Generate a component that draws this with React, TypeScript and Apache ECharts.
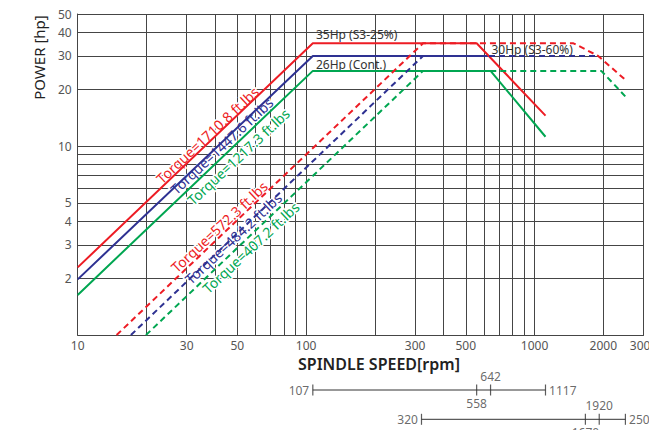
import React, { useEffect, useRef } from "react";
import * as echarts from "echarts";

// ---- axis ticks / labels (real units) ----
const rpmGrid = [10, 20, 30, 40, 50, 60, 70, 80, 90, 100, 200, 300, 400, 500, 600, 700, 800, 900, 1000, 2000, 3000];
const rpmLabels = [10, 30, 50, 100, 300, 500, 1000, 2000, 3000];
const hpGrid = [1, 2, 3, 4, 5, 6, 7, 8, 9, 10, 20, 30, 40, 50];
const hpLabels = [2, 3, 4, 5, 10, 20, 30, 40, 50];

// ---- curves: spindle speed [rpm] / power [hp] ----
const redSolidRpm = [10, 107, 558, 1117];
const redSolidHp = [2.28, 35, 35, 14.5];
const blueSolidRpm = [10, 107, 642];
const blueSolidHp = [1.97, 30, 30];
const greenSolidRpm = [10, 107, 642, 1117];
const greenSolidHp = [1.63, 25, 25, 11.2];

const redDashRpm = [14.8, 325, 1480, 1900, 2500];
const redDashHp = [1, 35, 35, 30, 22.4];
const blueDashRpm = [17.1, 325, 1900];
const blueDashHp = [1, 30, 30];
const greenDashRpm = [19.9, 325, 1960, 2500];
const greenDashHp = [1, 25, 25, 18.3];

// ---- speed range bars ----
const range1 = [107, 558, 642, 1117];
const range2 = [320, 1670, 1920, 2500];

const RED = "#ed1c24";
const BLUE = "#2e3192";
const GREEN = "#00a651";
const FONT = "Noto Sans";

const L = (v: number) => Math.log10(v);
const pts = (x: number[], y: number[]) => x.map((r, i) => [L(r), L(y[i])]);

export default function App() {
  const ref = useRef<HTMLDivElement>(null);
  useEffect(() => {
    if (!ref.current) return;
    const chart = echarts.init(ref.current, null, { renderer: "svg" });
    const fmt = (v: number) => String(Math.round(Math.pow(10, v)));
    const gridLine = { show: true, lineStyle: { color: "#454545", width: 1 } };

    const curve = (name: string, x: number[], y: number[], color: string, dashed: boolean) => ({
      name,
      type: "line",
      xAxisIndex: 0,
      yAxisIndex: 0,
      data: pts(x, y),
      symbol: "none",
      lineStyle: { color, width: 2, type: dashed ? [6, 4] : "solid" },
      z: 3,
    });

    const rangeSeries = (vals: number[], yv: number, pos: string[]) => [
      {
        type: "line",
        xAxisIndex: 1,
        yAxisIndex: 1,
        data: [[L(vals[0]), yv], [L(vals[vals.length - 1]), yv]],
        symbol: "none",
        lineStyle: { color: "#333", width: 1 },
      },
      {
        type: "scatter",
        xAxisIndex: 1,
        yAxisIndex: 1,
        symbol: "rect",
        symbolSize: [1.2, 11],
        itemStyle: { color: "#333" },
        data: vals.map((v, i) => ({
          value: [L(v), yv],
          label: {
            show: true,
            position: pos[i],
            distance: pos[i] === "top" || pos[i] === "bottom" ? 2 : 3,
            formatter: String(v),
            color: "#444",
            fontSize: 12,
            fontFamily: FONT,
          },
        })),
      },
    ];

    const rot = (43 * Math.PI) / 180;
    const torque = (text: string, x: number, y: number, color: string) => ({
      type: "text",
      x,
      y,
      rotation: rot,
      z: 1,
      style: {
        text,
        fill: color,
        stroke: "#fff",
        lineWidth: 3,
        font: `14px "${FONT}"`,
        align: "center",
        verticalAlign: "middle",
      },
    });
    const note = (text: string, x: number, y: number) => ({
      type: "text",
      x,
      y,
      z: 1,
      style: { text, fill: "#333", font: `12px "${FONT}"`, align: "left", verticalAlign: "middle" },
    });

    chart.setOption({
      animation: false,
      backgroundColor: "#fff",
      grid: [
        { left: 77.7, right: 5.5, top: 14, height: 321, containLabel: false, outerBoundsMode: "none" },
        { left: 77.7, right: 5.5, top: 375.35, height: 58.6, containLabel: false, outerBoundsMode: "none" },
      ],
      xAxis: [
        {
          type: "value",
          gridIndex: 0,
          min: L(10),
          max: L(3000),
          axisLine: { show: true, lineStyle: { color: "#454545", width: 1 } },
          axisTick: { show: false, customValues: rpmGrid.map(L) },
          splitLine: gridLine,
          axisLabel: {
            customValues: rpmLabels.map(L),
            formatter: fmt,
            color: "#555",
            fontSize: 12,
            fontFamily: FONT,
            margin: 4,
            hideOverlap: false,
          },
        },
        {
          type: "value",
          gridIndex: 1,
          min: L(10),
          max: L(3000),
          show: false,
        },
      ],
      yAxis: [
        {
          type: "value",
          gridIndex: 0,
          min: L(1),
          max: L(50),
          axisLine: { show: true, lineStyle: { color: "#454545", width: 1 } },
          axisTick: { show: false, customValues: hpGrid.map(L) },
          splitLine: gridLine,
          axisLabel: {
            customValues: hpLabels.map(L),
            formatter: fmt,
            color: "#555",
            fontSize: 12,
            fontFamily: FONT,
            margin: 6,
            hideOverlap: false,
          },
        },
        { type: "value", gridIndex: 1, min: 0.5, max: 2.5, show: false },
      ],
      graphic: [
        {
          type: "text",
          x: 379,
          y: 364,
          style: {
            text: "SPINDLE SPEED[rpm]",
            fill: "#222",
            font: `600 16px "${FONT}"`,
            align: "center",
            verticalAlign: "middle",
          },
        },
        {
          type: "text",
          x: 38.5,
          y: 57.5,
          rotation: Math.PI / 2,
          style: {
            text: "POWER [hp]",
            fill: "#222",
            font: `15px "${FONT}"`,
            align: "center",
            verticalAlign: "middle",
          },
        },
        note("35Hp (S3-25%)", 316, 34),
        note("26Hp (Cont.)", 316, 64),
        note("30Hp (S3-60%)", 491.5, 49.5),
        torque("Torque=1710.8 ft.lbs", 207.5, 135, RED),
        torque("Torque=1447.6 ft.lbs", 221.7, 145.8, BLUE),
        torque("Torque=1217.3 ft.lbs", 238.3, 156.7, GREEN),
        torque("Torque=572.3 ft.lbs", 219.2, 226.7, RED),
        torque("Torque=484.2 ft.lbs", 233.3, 238.3, BLUE),
        torque("Torque=407.2 ft.lbs", 250.8, 247.5, GREEN),
      ],
      series: [
        curve("26Hp (Cont.)", greenSolidRpm, greenSolidHp, GREEN, false),
        curve("30Hp", blueSolidRpm, blueSolidHp, BLUE, false),
        curve("35Hp (S3-25%)", redSolidRpm, redSolidHp, RED, false),
        curve("Cont. high", greenDashRpm, greenDashHp, GREEN, true),
        curve("30Hp (S3-60%)", blueDashRpm, blueDashHp, BLUE, true),
        curve("35Hp high", redDashRpm, redDashHp, RED, true),
        ...rangeSeries(range1, 2, ["left", "bottom", "top", "right"]),
        ...rangeSeries(range2, 1, ["left", "bottom", "top", "right"]),
      ],
    });
    return () => chart.dispose();
  }, []);
  return (
    <div
      ref={ref}
      style={{ position: "fixed", left: 0, top: 0, width: 649, height: 430, background: "#fff" }}
    />
  );
}
